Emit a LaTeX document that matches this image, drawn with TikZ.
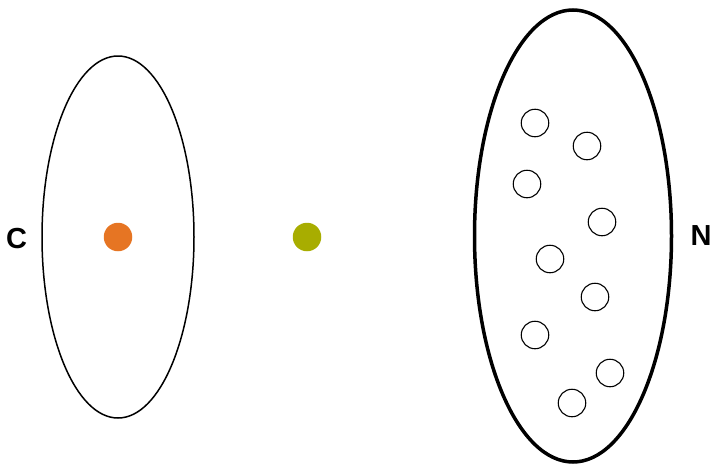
\documentclass[tikz,border=0pt]{standalone}
\usepackage{fontspec}
\setmainfont{Liberation Sans}
\usetikzlibrary{shapes.geometric}

\definecolor{dotorange}{RGB}{230,117,35}
\definecolor{dotolive}{RGB}{168,173,0}

\begin{document}
\begin{tikzpicture}[
    x=1pt, y=-1pt,
    setbox/.style   = {draw, ellipse, inner sep=0pt},
    member/.style   = {draw, circle, line width=1.1pt, minimum size=27.5pt, inner sep=0pt},
    point/.style    = {circle, minimum size=28.5pt, inner sep=0pt},
    setlabel/.style = {font=\bfseries\fontsize{29}{29}\selectfont, inner sep=0pt}
]
\useasboundingbox (0,0) rectangle (712,466);

% =========================================================
% SET C
% =========================================================
\node[setbox, line width=1.5pt, minimum width=152pt, minimum height=362pt] (setC) at (118,237) {};
\node[point, fill=dotorange] (c) at (118,237) {};
\node[setlabel] (labelC) at (16.5,239) {C};

% =========================================================
% POINT BETWEEN
% =========================================================
\node[point, fill=dotolive] (x) at (307,237) {};

% =========================================================
% SET N
% =========================================================
\node[setbox, line width=3.5pt, minimum width=197pt, minimum height=452pt] (setN) at (573,236) {};
\node[setlabel] (labelN) at (701,236) {N};

\node[member] (n1) at (535,123) {};
\node[member] (n2) at (587,146) {};
\node[member] (n3) at (527,184) {};
\node[member] (n4) at (602,222) {};
\node[member] (n5) at (550,259) {};
\node[member] (n6) at (595,297) {};
\node[member] (n7) at (535,335) {};
\node[member] (n8) at (610,373) {};
\node[member] (n9) at (572,403) {};

\end{tikzpicture}
\end{document}
